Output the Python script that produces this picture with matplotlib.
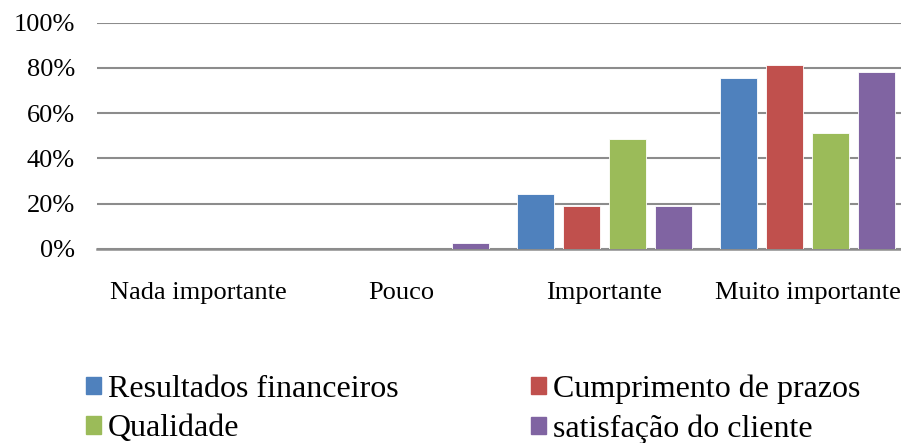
import matplotlib
matplotlib.use("Agg")
import matplotlib.pyplot as plt
from matplotlib.patches import Rectangle
import numpy as np

plt.rcParams['font.family'] = ['Liberation Serif', 'DejaVu Serif']

# respostas em % (n = 37)
categorias = ["Nada importante", "Pouco", "Importante", "Muito importante"]
series = ["Resultados financeiros", "Cumprimento de prazos", "Qualidade", "satisfação do cliente"]
resultados = [0, 0, 24.3, 75.7]
prazos = [0, 0, 18.9, 81.1]
qualidade = [0, 0, 48.6, 51.4]
satisfacao = [0, 2.7, 18.9, 78.4]
cores = ["#4F81BD", "#C0504D", "#9BBB59", "#8064A2"]
yticks = [0, 20, 40, 60, 80, 100]

W, H = 901, 443
fig = plt.figure(figsize=(W / 100, H / 100), dpi=100)
ax = fig.add_axes([97 / W, (H - 248.7) / H, 804 / W, 226 / H])

x = np.arange(len(categorias))
step = 0.227
width = 0.18
for i, (vals, cor) in enumerate(zip([resultados, prazos, qualidade, satisfacao], cores)):
    ax.bar(x + (i - 1.5) * step, vals, width, color=cor, edgecolor="white",
           linewidth=0.6, zorder=3)

ax.set_xlim(-0.5, -0.5 + 804 / 203)
ax.set_ylim(0, 100)
ax.set_yticks(yticks)
ax.set_yticklabels(["%d%%" % v for v in yticks], fontsize=19)
ax.set_xticks(x)
ax.set_xticklabels(categorias, fontsize=19)
ax.tick_params(axis="y", length=0, pad=16)
ax.tick_params(axis="x", length=0, pad=24)
ax.yaxis.grid(True, color="#8c8c8c", linewidth=1.5, zorder=0)
for s in ["top", "right", "left"]:
    ax.spines[s].set_visible(False)
ax.spines["bottom"].set_color("#8c8c8c")
ax.spines["bottom"].set_linewidth(1.8)

# legenda: ordem por coluna
ordem = [0, 2, 1, 3]
handles = [Rectangle((0, 0), 1, 1, color=cores[k]) for k in ordem]
labels = [series[k] for k in ordem]
fig.legend(handles, labels, ncol=2, frameon=False, fontsize=23,
           loc="center left", bbox_to_anchor=(73 / W, (H - 409) / H),
           handlelength=0.47, handleheight=0.47, handletextpad=0.22,
           columnspacing=4.15, labelspacing=0.33, borderaxespad=0)

fig.savefig("out.png", dpi=100)
